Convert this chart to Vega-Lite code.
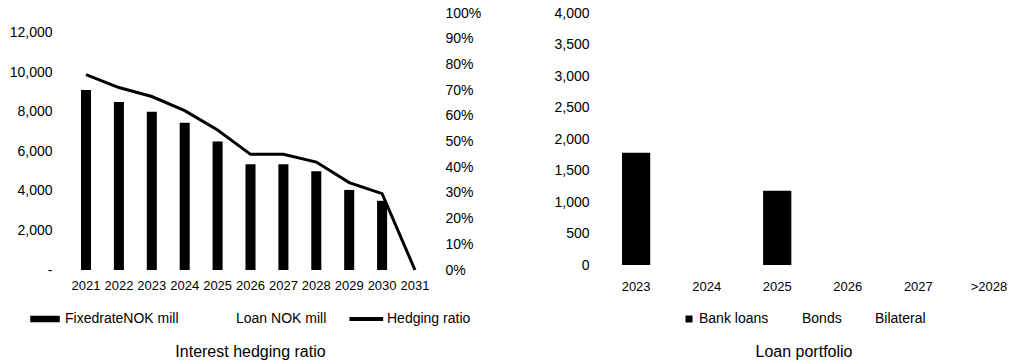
{
  "$schema": "https://vega.github.io/schema/vega-lite/v6.json",
  "background": "white",
  "padding": {"left": 9, "top": 6, "right": 4, "bottom": 4},
  "config": {
    "view": {"stroke": null},
    "font": "Liberation Sans",
    "axis": {"labelFont": "Liberation Sans", "labelColor": "black", "domain": false, "ticks": false, "grid": false, "title": null},
    "legend": {"labelFont": "Liberation Sans", "labelColor": "black", "labelFontSize": 14, "layout": {"bottom": {"anchor": "middle"}}},
    "title": {"font": "Liberation Sans", "fontSize": 16, "fontWeight": "normal", "color": "black"}
  },
  "datasets": {
    "hedging": [
      {"year": "2021", "fixed": 9100, "ratio": 0.76},
      {"year": "2022", "fixed": 8500, "ratio": 0.71},
      {"year": "2023", "fixed": 8000, "ratio": 0.675},
      {"year": "2024", "fixed": 7450, "ratio": 0.62},
      {"year": "2025", "fixed": 6500, "ratio": 0.545},
      {"year": "2026", "fixed": 5350, "ratio": 0.45},
      {"year": "2027", "fixed": 5350, "ratio": 0.45},
      {"year": "2028", "fixed": 5000, "ratio": 0.42},
      {"year": "2029", "fixed": 4050, "ratio": 0.34},
      {"year": "2030", "fixed": 3500, "ratio": 0.297},
      {"year": "2031", "fixed": 0, "ratio": 0}
    ],
    "loans": [
      {"year": "2023", "bank": 1780},
      {"year": "2024", "bank": 0},
      {"year": "2025", "bank": 1180},
      {"year": "2026", "bank": 0},
      {"year": "2027", "bank": 0},
      {"year": ">2028", "bank": 0}
    ]
  },
  "hconcat": [
    {
      "title": {"text": "Interest hedging ratio", "orient": "bottom", "offset": 18},
      "data": {"name": "hedging"},
      "width": 361,
      "height": 257,
      "encoding": {
        "x": {
          "field": "year", "type": "ordinal",
          "scale": {"paddingInner": 0.695, "paddingOuter": 0.334},
          "axis": {"labelAngle": 0, "labelFontSize": 13, "labelPadding": 9}
        }
      },
      "layer": [
        {
          "mark": {"type": "bar", "color": "black"},
          "encoding": {
            "y": {
              "field": "fixed", "type": "quantitative",
              "scale": {"domain": [0, 13000], "nice": false},
              "axis": {"orient": "left", "values": [0, 2000, 4000, 6000, 8000, 10000, 12000], "labelExpr": "datum.value === 0 ? '-' : format(datum.value, ',')", "labelFontSize": 14, "labelPadding": 18}
            },
            "color": {
              "datum": "FixedrateNOK mill",
              "scale": {"domain": ["FixedrateNOK mill", "Loan NOK mill", "Hedging ratio"], "range": ["black", "white", "black"]},
              "legend": {
                "orient": "bottom", "direction": "horizontal", "title": null,
                "symbolSize": 784, "columnPadding": 20, "labelOffset": 5, "offset": 12,
                "encode": {"symbols": {"update": {
                  "shape": {"signal": "datum.value === 'Hedging ratio' ? 'M-1.2,-0.09H1.1V0.09H-1.2Z' : 'M-1,-0.18H1V0.18H-1Z'"},
                  "fill": {"signal": "datum.value === 'Loan NOK mill' ? 'transparent' : 'black'"},
                  "stroke": {"value": "transparent"},
                  "opacity": {"value": 1},
                  "fillOpacity": {"value": 1}
                }}}
              }
            }
          }
        },
        {
          "mark": {"type": "line", "strokeWidth": 3, "color": "black"},
          "encoding": {
            "y": {
              "field": "ratio", "type": "quantitative",
              "scale": {"domain": [0, 1], "nice": false},
              "axis": {"orient": "right", "values": [0, 0.1, 0.2, 0.3, 0.4, 0.5, 0.6, 0.7, 0.8, 0.9, 1], "labelExpr": "format(datum.value, '.0%')", "labelFontSize": 14, "labelPadding": 14}
            },
            "color": {"datum": "Hedging ratio"}
          }
        }
      ],
      "resolve": {"scale": {"y": "independent"}}
    },
    {
      "title": {"text": "Loan portfolio", "orient": "bottom", "offset": 18},
      "data": {"name": "loans"},
      "width": 414,
      "height": 252,
      "mark": {"type": "bar"},
      "encoding": {
        "x": {
          "field": "year", "type": "ordinal", "sort": ["2023", "2024", "2025", "2026", "2027", ">2028"],
          "scale": {"paddingInner": 0.6, "paddingOuter": 0.2337, "align": 0.758},
          "axis": {"labelAngle": 0, "labelFontSize": 13, "labelPadding": 15}
        },
        "y": {
          "field": "bank", "type": "quantitative",
          "scale": {"domain": [0, 4000], "nice": false},
          "axis": {"values": [0, 500, 1000, 1500, 2000, 2500, 3000, 3500, 4000], "labelExpr": "format(datum.value, ',')", "labelFontSize": 14, "labelPadding": 8}
        },
        "color": {
          "datum": "Bank loans",
          "scale": {"domain": ["Bank loans", "Bonds", "Bilateral"], "range": ["black", "white", "white"]},
          "legend": {
            "orient": "bottom", "direction": "horizontal", "title": null,
            "symbolType": "square", "symbolSize": 49, "columnPadding": 16, "labelOffset": 3, "offset": 19,
            "encode": {"symbols": {"update": {
              "fill": {"signal": "datum.value === 'Bank loans' ? 'black' : 'transparent'"},
              "stroke": {"value": "transparent"},
              "opacity": {"value": 1},
              "fillOpacity": {"value": 1}
            }}}
          }
        }
      }
    }
  ],
  "resolve": {"scale": {"color": "independent"}, "legend": {"color": "independent"}},
  "spacing": 72
}
